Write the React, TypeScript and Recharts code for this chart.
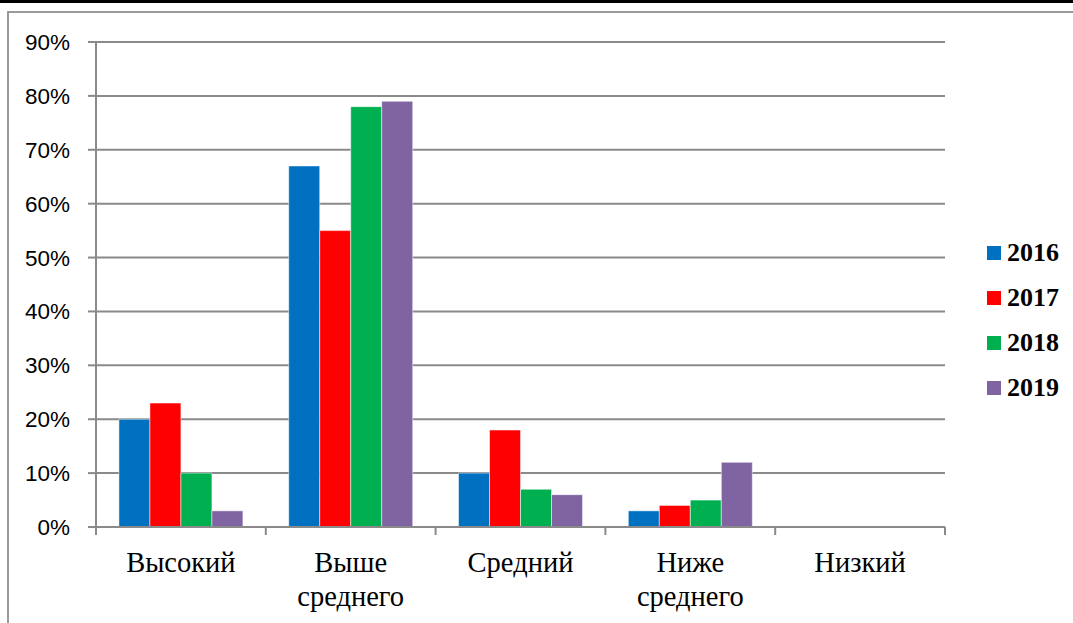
import React from "react";
import { BarChart, Bar, XAxis, YAxis, CartesianGrid } from "recharts";

const categories = ["Высокий", "Выше\nсреднего", "Средний", "Ниже\nсреднего", "Низкий"];
const series2016 = [20, 67, 10, 3, 0];
const series2017 = [23, 55, 18, 4, 0];
const series2018 = [10, 78, 7, 5, 0];
const series2019 = [3, 79, 6, 12, 0];
const seriesNames = ["2016", "2017", "2018", "2019"];
const seriesColors = ["#0070C0", "#FF0000", "#00B050", "#8064A2"];
const yTicks = [0, 10, 20, 30, 40, 50, 60, 70, 80, 90];

const seriesValues = [series2016, series2017, series2018, series2019];
const data = categories.map((c, i) => {
  const row: any = { name: c };
  seriesNames.forEach((s, k) => {
    row[s] = seriesValues[k][i];
  });
  return row;
});

const W = 1073;
const H = 623;
const PLOT_LEFT = 96;
const PLOT_RIGHT = 945;
const BAND = (PLOT_RIGHT - PLOT_LEFT) / categories.length;
const GRAY = "#8a8a8a";

const XTick = (props: any) => {
  const { x, y, payload, index } = props;
  const lines = String(payload.value).split("\n");
  return (
    <g>
      <line x1={x - BAND / 2} y1={y - 8} x2={x - BAND / 2} y2={y} stroke={GRAY} strokeWidth={2} />
      {index === categories.length - 1 && (
        <line x1={x + BAND / 2} y1={y - 8} x2={x + BAND / 2} y2={y} stroke={GRAY} strokeWidth={2} />
      )}
      <text
        x={x}
        y={y + 37}
        textAnchor="middle"
        fontFamily="'Liberation Serif', 'Times New Roman', serif"
        fontSize={28.5}
        fill="#000"
      >
        {lines.map((l, i) => (
          <tspan key={i} x={x} dy={i === 0 ? 0 : 34}>
            {l}
          </tspan>
        ))}
      </text>
    </g>
  );
};

export default function App() {
  return (
    <div style={{ position: "absolute", left: 0, top: 0, width: W, height: H, background: "#fff", overflow: "hidden" }}>
      <div style={{ position: "absolute", left: 0, top: 0, width: W, height: 3, background: "#000" }} />
      <div style={{ position: "absolute", left: 7, top: 11, width: W - 7, height: 2, background: "#9a9a9a" }} />
      <div style={{ position: "absolute", left: 7, top: 11, width: 2, height: H - 11, background: "#9a9a9a" }} />
      <div style={{ position: "absolute", left: 0, top: 0 }}>
        <BarChart
          width={W}
          height={H}
          data={data}
          margin={{ top: 42, right: W - PLOT_RIGHT, left: 0, bottom: 0 }}
          barGap={0}
          barCategoryGap="13.5%"
        >
          <CartesianGrid vertical={false} stroke={GRAY} strokeWidth={2} />
          <XAxis
            dataKey="name"
            height={96}
            tickLine={false}
            tickSize={8}
            tickMargin={0}
            axisLine={{ stroke: GRAY, strokeWidth: 2 }}
            tick={<XTick />}
            interval={0}
          />
          <YAxis
            width={PLOT_LEFT}
            domain={[0, 90]}
            ticks={yTicks}
            interval={0}
            tickFormatter={(v: number) => `${v}%`}
            tickSize={8}
            tickMargin={18}
            tickLine={{ stroke: GRAY, strokeWidth: 2 }}
            axisLine={{ stroke: GRAY, strokeWidth: 2 }}
            tick={{ fill: "#000", fontSize: 22.5, fontFamily: "'Liberation Sans', Arial, sans-serif" }}
          />
          {seriesNames.map((s, k) => (
            <Bar
              key={s}
              dataKey={s}
              fill={seriesColors[k]}
              stroke="rgba(255,255,255,0.5)"
              strokeWidth={1}
              isAnimationActive={false}
            />
          ))}
        </BarChart>
      </div>
      {seriesNames.map((s, k) => (
        <div
          key={s}
          style={{
            position: "absolute",
            left: 987,
            top: 253 + k * 45 - 16,
            height: 32,
            display: "flex",
            alignItems: "center",
          }}
        >
          <div style={{ width: 14, height: 14, background: seriesColors[k], marginRight: 6 }} />
          <span
            style={{
              fontFamily: "'Liberation Serif', 'Times New Roman', serif",
              fontWeight: "bold",
              fontSize: 26,
              lineHeight: "32px",
              color: "#000",
            }}
          >
            {s}
          </span>
        </div>
      ))}
    </div>
  );
}
